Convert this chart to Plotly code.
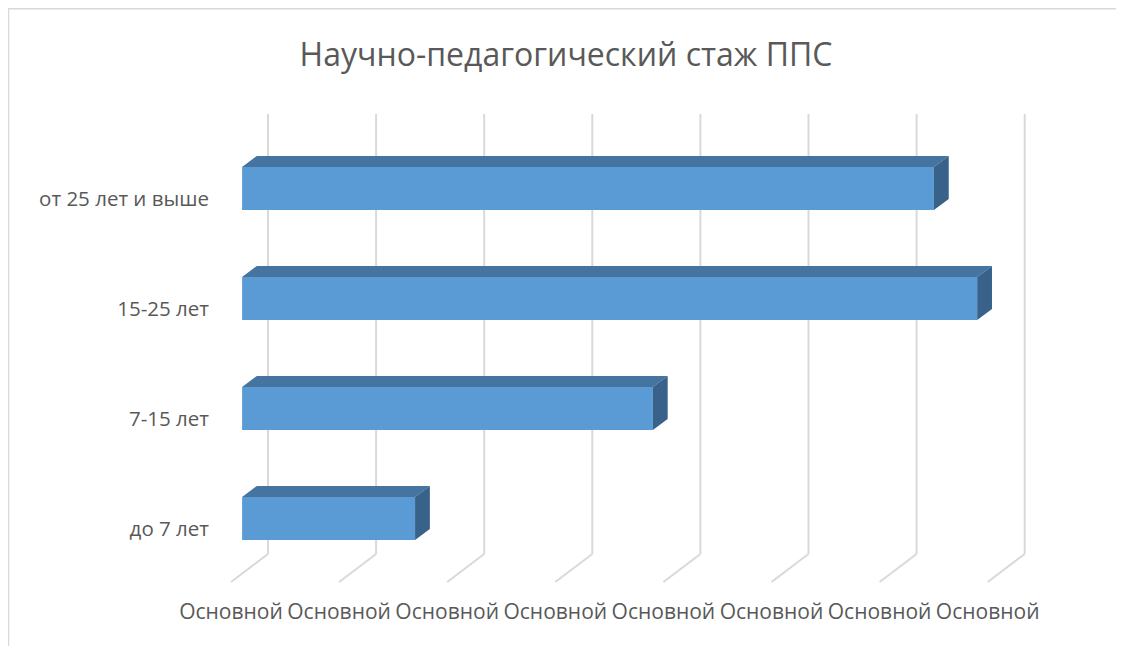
import plotly.graph_objects as go

# ---- data ----
categories = ["до 7 лет", "7-15 лет", "15-25 лет", "от 25 лет и выше"]
values = [1.6, 3.8, 6.8, 6.4]
tick_values = [0, 1, 2, 3, 4, 5, 6, 7]
tick_labels = ["Основной"] * 8
title_text = "Научно-педагогический стаж ППС"

# ---- geometry (pseudo-3D projection) ----
PX_X = 108.1          # pixels per value unit
PX_C = 110.0          # pixels per category
DX = 37.0 / PX_X      # full-depth shift in x units
DY = 28.0 / PX_C      # full-depth shift in category units
D_FRONT, D_BACK = 0.3, 0.7
HALF = 0.1955
X_ORIGIN = 223        # pixel of value 0 on the front floor edge
C_ORIGIN = 519        # pixel of category 0 on the front plane

FRONT = "#5b9bd5"
TOP = "#44749f"
SIDE = "#39628a"
GRID = "#d9d9d9"
TEXT = "#595959"
FONT = "Open Sans"

fig = go.Figure()

# gridlines: back wall verticals + floor diagonals (below the bars)
c_lo, c_hi = -0.5, len(categories) - 0.5
shapes = []
for k in tick_values:
    shapes.append(dict(type="line", xref="x", yref="y", layer="below",
                       x0=k + DX, x1=k + DX, y0=c_lo + DY, y1=c_hi + DY,
                       line=dict(color=GRID, width=2)))
    shapes.append(dict(type="line", xref="x", yref="y", layer="below",
                       x0=k + DX, x1=k, y0=c_lo + DY, y1=c_lo,
                       line=dict(color=GRID, width=2)))

# bars
cs = list(range(len(categories)))
xf = D_FRONT * DX
xb = D_BACK * DX
yf = D_FRONT * DY
yb = D_BACK * DY
fig.add_trace(go.Bar(orientation="h", x=values, y=[c + yf for c in cs],
                     base=[xf] * len(values), width=2 * HALF,
                     marker=dict(color=FRONT, line=dict(width=0)),
                     hoverinfo="skip"))

tx, ty, sx, sy = [], [], [], []
for c, v in zip(cs, values):
    tx += [xf, v + xf, v + xb, xb, xf, None]
    ty += [c + yf + HALF, c + yf + HALF, c + yb + HALF, c + yb + HALF, c + yf + HALF, None]
    sx += [v + xf, v + xb, v + xb, v + xf, v + xf, None]
    sy += [c + yf - HALF, c + yb - HALF, c + yb + HALF, c + yf + HALF, c + yf - HALF, None]
fig.add_trace(go.Scatter(x=tx, y=ty, mode="lines", fill="toself", fillcolor=TOP,
                         line=dict(width=0, color=TOP), hoverinfo="skip"))
fig.add_trace(go.Scatter(x=sx, y=sy, mode="lines", fill="toself", fillcolor=SIDE,
                         line=dict(width=0, color=SIDE), hoverinfo="skip"))

W, H = 1116, 638
L, R, T, B = 210, 24, 92, 54
x0 = (L - X_ORIGIN) / PX_X
x1 = (W - R - X_ORIGIN) / PX_X
y1 = (C_ORIGIN - T) / PX_C
y0 = (C_ORIGIN - (H - B)) / PX_C

pw, ph = W - L - R, H - T - B
shapes.append(dict(type="rect", xref="paper", yref="paper",
                   x0=(0.5 - L) / pw, x1=(1113 - L) / pw,
                   y0=-(H + 20 - T - ph) / ph, y1=1 + (T - 0.8) / ph,
                   line=dict(color=GRID, width=1.5), layer="below"))

fig.update_layout(
    width=W, height=H,
    margin=dict(l=L, r=R, t=T, b=B),
    paper_bgcolor="white", plot_bgcolor="white",
    showlegend=False,
    title=dict(text=title_text, x=558 / W, xref="container", xanchor="center",
               y=1 - 47 / H, yref="container", yanchor="middle",
               font=dict(family=FONT, size=32, color=TEXT)),
    xaxis=dict(range=[x0, x1], showgrid=False, zeroline=False, showline=False,
               tickmode="array", tickvals=tick_values, ticktext=tick_labels,
               ticks="", ticklabelstandoff=5,
               tickfont=dict(family=FONT, size=21, color=TEXT), fixedrange=True),
    yaxis=dict(range=[y0, y1], showgrid=False, zeroline=False, showline=False,
               tickmode="array", tickvals=[c - 0.02 for c in cs], ticktext=categories,
               ticks="", ticklabelstandoff=8,
               tickfont=dict(family=FONT, size=20.5, color=TEXT), fixedrange=True),
    shapes=shapes,
)

fig.write_html("out.html")
